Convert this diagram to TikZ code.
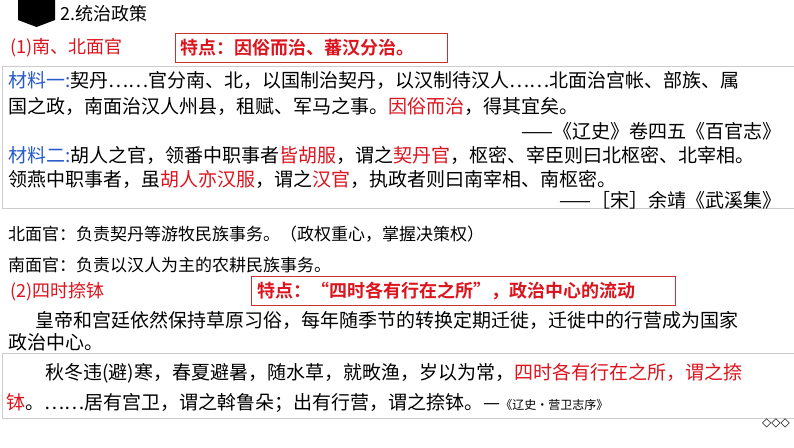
\documentclass[tikz,border=0pt]{standalone}
\usepackage{fontspec}
\setmainfont{Noto Sans CJK SC}
\newfontfamily\bfcjk{Noto Sans CJK SC Bold}
\definecolor{myred}{RGB}{220,20,30}
\definecolor{myblue}{RGB}{40,90,200}
\definecolor{boxred}{RGB}{200,50,50}
\begin{document}
\begin{tikzpicture}[x=1pt,y=-1pt,
  t/.style={anchor=west,inner sep=0pt,font=\fontsize{19}{19}\selectfont},
  ts/.style={anchor=west,inner sep=0pt,font=\fontsize{17}{17}\selectfont},
  rt/.style={anchor=west,inner sep=0pt,text=myred,font=\fontsize{18}{18}\selectfont},
  rbox/.style={draw=boxred,line width=0.8pt,inner sep=0pt}]
\useasboundingbox (0,0) rectangle (794,447);
\fill[white] (0,0) rectangle (794,447);
\fill[black] (18,0) -- (55,0) -- (55,20) -- (36.5,27) -- (18,20) -- cycle;
\node[ts,font=\fontsize{18}{18}\selectfont] (title) at (60,14) {2.统治政策};
\node[rt] (h1) at (10,48) {(1)南、北面官};
\draw[rbox] (175,33) rectangle (447,62);
\node[rt,font=\bfcjk\fontsize{18}{18}\selectfont] (f1) at (180,47.5) {特点：因俗而治、蕃汉分治。};
\draw[gray!40,line width=1pt] (2,66) rectangle (800,208);
\node[t] (l1) at (8,80) {\textcolor{myblue}{材料一:}契丹……官分南、北，以国制治契丹，以汉制待汉人……北面治宫帐、部族、属};
\node[t] (l2) at (8,106) {国之政，南面治汉人州县，租赋、军马之事。\textcolor{myred}{因俗而治}，得其宜矣。};
\node[t,anchor=east] (l3) at (782,131) {——《辽史》卷四五《百官志》};
\node[t] (l4) at (8,155) {\textcolor{myblue}{材料二:}胡人之官，领番中职事者\textcolor{myred}{皆胡服}，谓之\textcolor{myred}{契丹官}，枢密、宰臣则曰北枢密、北宰相。};
\node[t] (l5) at (8,179) {领燕中职事者，虽\textcolor{myred}{胡人亦汉服}，谓之\textcolor{myred}{汉官}，执政者则曰南宰相、南枢密。};
\node[t,anchor=east] (l6) at (782,200) {——［宋］余靖《武溪集》};
\node[ts] (n1) at (8,234) {北面官：负责契丹等游牧民族事务。（政权重心，掌握决策权）};
\node[ts] (n2) at (8,265) {南面官：负责以汉人为主的农耕民族事务。};
\node[rt] (h2) at (10,292) {(2)四时捺钵};
\draw[rbox] (251,276) rectangle (675,305);
\node[rt,font=\bfcjk\fontsize{18}{18}\selectfont] (f2) at (257,290.5) {特点：“四时各有行在之所”，政治中心的流动};
\node[t] (p1) at (35,320) {皇帝和宫廷依然保持草原习俗，每年随季节的转换定期迁徙，迁徙中的行营成为国家};
\node[t] (p2) at (8,342) {政治中心。};
\draw[gray!40,line width=1pt] (2,353) rectangle (800,418);
\node[t] (q1) at (45,373) {秋冬违(避)寒，春夏避暑，随水草，就畋渔，岁以为常，\textcolor{myred}{四时各有行在之所，谓之捺}};
\node[t] (q2) at (6,403) {\textcolor{myred}{钵}。……居有宫卫，谓之斡鲁朵；出有行营，谓之捺钵。—{\fontsize{12}{12}\selectfont《辽史·营卫志序》}};
\node[anchor=center,inner sep=0pt,font=\fontsize{12}{12}\selectfont] (dia) at (776,423) {\setmainfont{DejaVu Sans}◇◇◇};
\end{tikzpicture}
\end{document}
